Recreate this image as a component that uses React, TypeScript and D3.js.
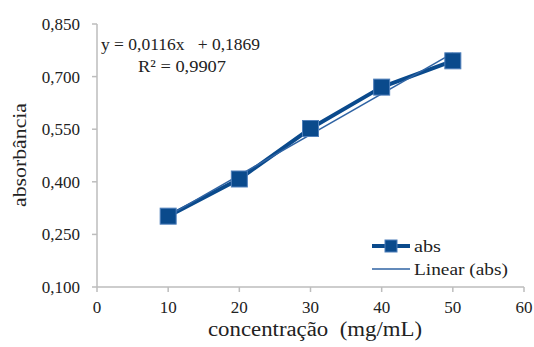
import React from 'react';
import * as d3 from 'd3';

const concentrations = [10, 20, 30, 40, 50];
const absValues = [0.302, 0.408, 0.552, 0.67, 0.745];
const xTicks = [0, 10, 20, 30, 40, 50, 60];
const yTicks = [0.1, 0.25, 0.4, 0.55, 0.7, 0.85];
const slope = 0.0116;
const intercept = 0.1869;

const BLUE = '#0a4a8c';
const AXIS = '#bdbdbd';
const FONT = "Times New Roman, Liberation Serif, DejaVu Serif, serif";

export default function App() {
  const W = 534, H = 347;
  const x = d3.scaleLinear().domain([0, 60]).range([97, 524]);
  const y = d3.scaleLinear().domain([0.1, 0.85]).range([287, 24]);
  const fmt = (v: number) => v.toFixed(3).replace('.', ',');

  const line = d3.line<number>().x((_, i) => x(concentrations[i])).y(d => y(d));
  const trendX = d3.extent(concentrations) as [number, number];
  const trend = d3.line<number>().x(d => x(d)).y(d => y(slope * d + intercept));

  return (
    <svg width={W} height={H} fontFamily={FONT} style={{ position: 'absolute', left: 0, top: 0, background: '#fff' }}>
      {/* axes */}
      <line x1={x(0)} x2={x(0)} y1={y(0.85)} y2={y(0.1)} stroke={AXIS} strokeWidth={1.5} />
      <line x1={x(0)} x2={x(60)} y1={y(0.1)} y2={y(0.1)} stroke={AXIS} strokeWidth={1.5} />
      {yTicks.map(t => (
        <g key={t}>
          <line x1={x(0) - 5} x2={x(0)} y1={y(t)} y2={y(t)} stroke={AXIS} strokeWidth={1.5} />
          <text x={x(0) - 17} y={y(t)} dy="0.35em" textAnchor="end" fontSize={17} fill="#222">{fmt(t)}</text>
        </g>
      ))}
      {xTicks.map(t => (
        <g key={t}>
          <line x1={x(t)} x2={x(t)} y1={y(0.1)} y2={y(0.1) + 5} stroke={AXIS} strokeWidth={1.5} />
          <text x={x(t)} y={y(0.1) + 26} textAnchor="middle" fontSize={17} fill="#222">{t}</text>
        </g>
      ))}

      {/* axis titles */}
      <text transform="translate(26,155) rotate(-90)" textAnchor="middle" fontSize={19} fill="#222" textLength={104} lengthAdjust="spacingAndGlyphs">absorbância</text>
      <text x={315} y={336} textAnchor="middle" fontSize={20} fill="#222" xmlSpace="preserve" textLength={214} lengthAdjust="spacingAndGlyphs">concentração  (mg/mL)</text>

      {/* trend equation */}
      <text x={101} y={50} fontSize={17} fill="#222" xmlSpace="preserve" textLength={159} lengthAdjust="spacingAndGlyphs">y = 0,0116x   + 0,1869</text>
      <text x={138} y={72} fontSize={17} fill="#222" xmlSpace="preserve" textLength={88} lengthAdjust="spacingAndGlyphs">R² = 0,9907</text>

      {/* series */}
      <path d={line(absValues) || ''} fill="none" stroke={BLUE} strokeWidth={4} strokeLinejoin="round" />
      <path d={trend(trendX) || ''} fill="none" stroke="#2f63a3" strokeWidth={1.5} />
      {absValues.map((v, i) => (
        <rect key={i} x={x(concentrations[i]) - 8} y={y(v) - 8} width={16} height={16} fill={BLUE} stroke="#4f7fba" strokeWidth={1} />
      ))}

      {/* legend */}
      <line x1={372} x2={410} y1={246} y2={246} stroke={BLUE} strokeWidth={4} />
      <rect x={385} y={240} width={12} height={12} fill={BLUE} stroke="#4f7fba" strokeWidth={1} />
      <text x={414} y={252} fontSize={17} fill="#222" textLength={27} lengthAdjust="spacingAndGlyphs">abs</text>
      <line x1={372} x2={410} y1={269} y2={269} stroke="#2f63a3" strokeWidth={1.5} />
      <text x={414} y={275} fontSize={17} fill="#222" textLength={94} lengthAdjust="spacingAndGlyphs">Linear (abs)</text>
    </svg>
  );
}
